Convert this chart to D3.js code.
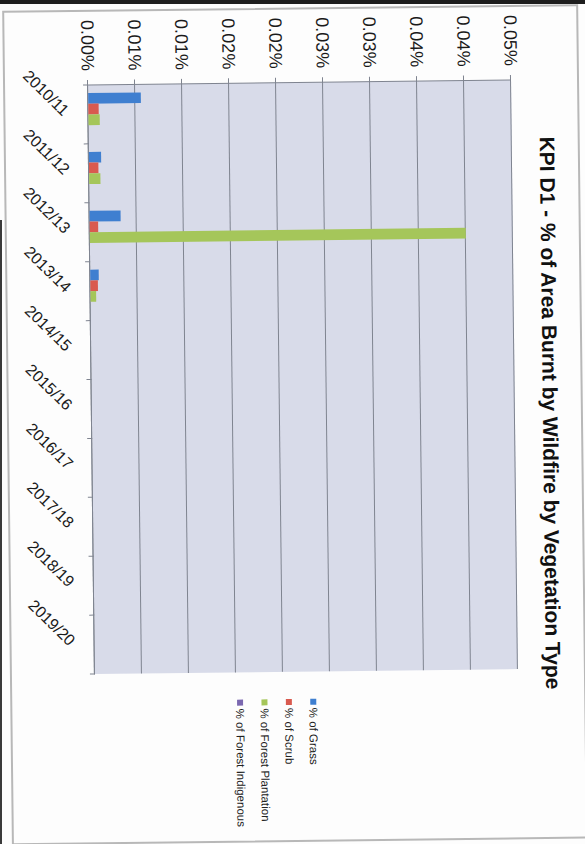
<!DOCTYPE html>
<html>
<head>
<meta charset="utf-8">
<script src="https://cdn.jsdelivr.net/npm/d3@7"></script>
<style>
  html, body { margin: 0; padding: 0; background: #fdfdfd; }
  svg { display: block; font-family: 'Liberation Sans', Arial, sans-serif; }
</style>
</head>
<body>
<div id="chart"></div>
<script>
// data (values are in percent)
const categories = ['2010/11', '2011/12', '2012/13', '2013/14', '2014/15',
  '2015/16', '2016/17', '2017/18', '2018/19', '2019/20'];
const seriesNames = ['% of Grass', '% of Scrub', '% of Forest Plantation', '% of Forest Indigenous'];
const grass = [0.0056, 0.0013, 0.0033, 0.0009, 0, 0, 0, 0, 0, 0];
const scrub = [0.0011, 0.0010, 0.0009, 0.0008, 0, 0, 0, 0, 0, 0];
const plantation = [0.0012, 0.0012, 0.0400, 0.0006, 0, 0, 0, 0, 0, 0];
const indigenous = [0, 0, 0, 0, 0, 0, 0, 0, 0, 0];
const tickValues = [0, 0.005, 0.01, 0.015, 0.02, 0.025, 0.03, 0.035, 0.04, 0.045];
const tickLabels = ['0.00%', '0.01%', '0.01%', '0.02%', '0.02%', '0.03%', '0.03%', '0.04%', '0.04%', '0.05%'];
const seriesColors = ['#3f7fd0', '#d95a4f', '#a5c65a', '#7b68b0'];
const chartTitle = 'KPI D1 - % of Area Burnt by Wildfire by Vegetation Type';

const W = 585, H = 844;
const svg = d3.select('#chart').append('svg')
  .attr('width', W)
  .attr('height', H);

// scanner edge
svg.append('rect').attr('x', 0).attr('y', 0).attr('width', W).attr('height', 4).attr('fill', '#1e1e1e');
svg.append('rect').attr('x', 0).attr('y', 220).attr('width', 2).attr('height', H - 220).attr('fill', '#3a3a3a');

// the page was scanned slightly crooked
const page = svg.append('g').attr('transform', 'rotate(-0.67, 292.5, 422)');

page.append('rect')
  .attr('x', 8).attr('y', 8.5)
  .attr('width', 574).attr('height', 832.5)
  .attr('fill', 'none')
  .attr('stroke', '#b8b8b8')
  .attr('stroke-width', 2);

// chart drawn landscape, then turned 90 degrees clockwise
const g = page.append('g').attr('transform', `translate(${W},0) rotate(90)`);

const plot = { left: 82.6, right: 671.7, top: 70, bottom: 493 };

const x0 = d3.scaleBand().domain(categories).range([plot.left, plot.right]).padding(0);
const bw = x0.bandwidth();
const x1 = d3.scaleBand().domain(seriesNames)
  .range([bw * 0.75 / 5.5, bw - bw * 0.75 / 5.5]).padding(0);
const y = d3.scaleLinear().domain([0, 0.045]).range([plot.bottom, plot.top]);

g.append('rect')
  .attr('x', plot.left).attr('y', plot.top)
  .attr('width', plot.right - plot.left).attr('height', plot.bottom - plot.top)
  .attr('fill', '#d8dbe9');

// value gridlines + left axis
const yAxis = g.append('g')
  .attr('transform', `translate(${plot.left},0)`)
  .call(d3.axisLeft(y).tickValues(tickValues)
    .tickFormat((d, i) => tickLabels[i])
    .tickSize(-(plot.right - plot.left)).tickPadding(14));
yAxis.select('.domain').remove();
yAxis.selectAll('.tick line')
  .attr('x1', -5)
  .attr('stroke', '#7f8490');
yAxis.selectAll('.tick text')
  .attr('fill', '#1a1a1a')
  .style('font-size', '18px');
g.append('line')
  .attr('x1', plot.left).attr('x2', plot.left)
  .attr('y1', plot.top).attr('y2', plot.bottom)
  .attr('stroke', '#7f8490');

// category axis
const xAxis = g.append('g')
  .attr('transform', `translate(0,${plot.bottom})`)
  .call(d3.axisBottom(x0).tickSize(0).tickPadding(0));
xAxis.select('.domain').attr('stroke', '#7f8490');
xAxis.selectAll('.tick text')
  .attr('transform', 'translate(-2,22) rotate(-45)')
  .attr('text-anchor', 'end')
  .attr('dy', '0.35em')
  .attr('fill', '#1a1a1a')
  .style('font-size', '16px');
g.append('g')
  .selectAll('line')
  .data(categories.concat(['end']))
  .enter()
  .append('line')
  .attr('x1', (d, i) => plot.left + i * bw)
  .attr('x2', (d, i) => plot.left + i * bw)
  .attr('y1', plot.bottom)
  .attr('y2', plot.bottom + 5)
  .attr('stroke', '#7f8490');

// bars
const seriesData = [grass, scrub, plantation, indigenous];
const groups = g.append('g')
  .selectAll('g')
  .data(seriesData)
  .enter()
  .append('g')
  .attr('fill', (d, i) => seriesColors[i]);
groups.each(function (vals, si) {
  d3.select(this)
    .selectAll('rect')
    .data(vals)
    .enter()
    .append('rect')
    .attr('x', (d, i) => x0(categories[i]) + x1(seriesNames[si]))
    .attr('y', (d) => y(d))
    .attr('width', x1.bandwidth())
    .attr('height', (d) => plot.bottom - y(d));
});

// title
const title = g.append('text')
  .attr('x', 416)
  .attr('y', 42)
  .attr('text-anchor', 'middle')
  .attr('font-weight', 'bold')
  .attr('fill', '#111')
  .style('font-size', '20px')
  .text(chartTitle);
const tLen = title.node().getComputedTextLength();
title.style('font-size', (20 * 553 / tLen).toFixed(2) + 'px');

// legend
const legend = g.append('g')
  .selectAll('g')
  .data(seriesNames)
  .enter()
  .append('g')
  .attr('transform', (d, i) => `translate(699,${275 + i * 24.4})`);
legend.append('rect')
  .attr('x', 0).attr('y', -3)
  .attr('width', 6).attr('height', 6)
  .attr('fill', (d, i) => seriesColors[i]);
legend.append('text')
  .attr('x', 9)
  .attr('dy', '0.35em')
  .attr('fill', '#222')
  .style('font-size', '11.5px')
  .text((d) => d);
</script>
</body>
</html>
